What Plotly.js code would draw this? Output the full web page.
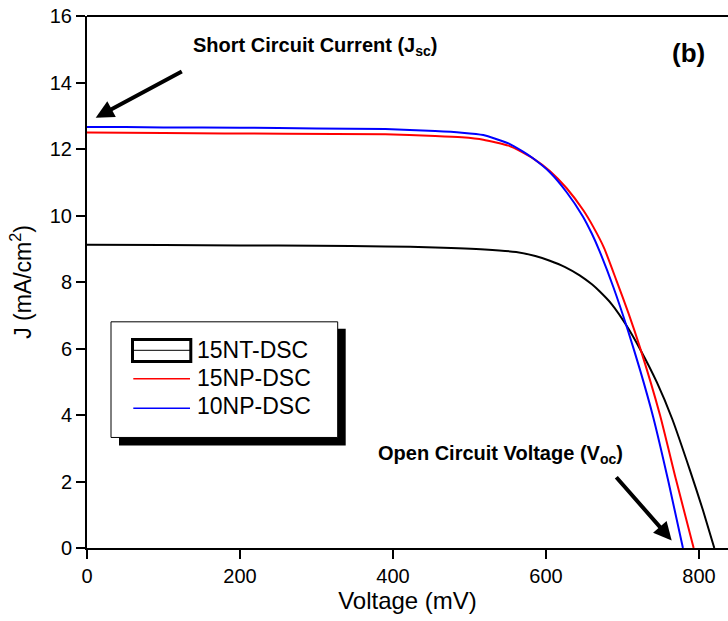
<!DOCTYPE html>
<html>
<head>
<meta charset="utf-8">
<script src="https://cdn.plot.ly/plotly-3.0.1.min.js"></script>
<style>html,body{margin:0;padding:0;background:#fff;}#chart{width:728px;height:621px;}</style>
</head>
<body>
<div id="chart"></div>
<script>
// Series names
const seriesNames = ["15NT-DSC", "15NP-DSC", "10NP-DSC"];

// 15NT-DSC (black)
const v15NT = [0, 100, 200, 300, 390, 455, 520, 561, 586, 605, 625, 644, 660, 670, 686, 705, 723, 745, 765, 788, 805, 820];
const j15NT = [9.12, 9.11, 9.10, 9.09, 9.07, 9.04, 8.98, 8.90, 8.78, 8.64, 8.45, 8.20, 7.93, 7.72, 7.33, 6.70, 5.98, 4.98, 3.88, 2.35, 1.15, 0];

// 15NP-DSC (red)
const v15NP = [0, 100, 259, 390, 455, 490, 518, 551, 570, 583, 605, 627, 649, 662, 676, 692, 708, 723, 749, 770, 793];
const j15NP = [12.50, 12.48, 12.46, 12.44, 12.39, 12.35, 12.28, 12.10, 11.89, 11.72, 11.34, 10.82, 10.15, 9.65, 9.02, 8.05, 7.05, 6.02, 4.00, 2.05, 0];

// 10NP-DSC (blue)
const v10NP = [0, 50, 100, 200, 300, 390, 455, 490, 518, 551, 570, 583, 605, 627, 648, 660, 670, 688, 707, 723, 740, 760, 779];
const j10NP = [12.66, 12.66, 12.65, 12.64, 12.62, 12.60, 12.54, 12.49, 12.42, 12.17, 11.92, 11.72, 11.30, 10.70, 9.98, 9.45, 8.93, 7.85, 6.55, 5.35, 3.95, 2.00, 0];

// Axis ticks
const xTicks = [0, 200, 400, 600, 800];
const yTicks = [0, 2, 4, 6, 8, 10, 12, 14, 16];

// Pixel -> paper helpers (layout geometry)
const L = 87, R = 728, T = 16, B = 548.3;
const px = p => (p - L) / (R - L);
const py = p => (B - p) / (B - T);

const FONT = "Arial, 'Liberation Sans', sans-serif";

const traces = [
  {x: v15NT, y: j15NT, name: seriesNames[0], mode: "lines", line: {color: "#000000", width: 2, shape: "spline", smoothing: 0.5}},
  {x: v15NP, y: j15NP, name: seriesNames[1], mode: "lines", line: {color: "#ff0000", width: 2, shape: "spline", smoothing: 0.5}},
  {x: v10NP, y: j10NP, name: seriesNames[2], mode: "lines", line: {color: "#0000ff", width: 2, shape: "spline", smoothing: 0.5}}
];

const shapes = [
  // top frame line
  {type: "line", xref: "paper", yref: "paper", x0: 0, x1: 1.05, y0: 1, y1: 1, line: {color: "#000", width: 2}},
  // legend shadow
  {type: "rect", xref: "paper", yref: "paper", x0: px(119), x1: px(345.7), y0: py(329), y1: py(445.7), fillcolor: "#000", line: {width: 0}, layer: "above"},
  // legend box
  {type: "rect", xref: "paper", yref: "paper", x0: px(111), x1: px(337.7), y0: py(322), y1: py(437.7), fillcolor: "#fff", line: {color: "#000", width: 1}, layer: "above"},
  // 15NT symbol: thick box + line
  {type: "rect", xref: "paper", yref: "paper", x0: px(132.5), x1: px(190.8), y0: py(339.8), y1: py(361.8), fillcolor: "rgba(0,0,0,0)", line: {color: "#000", width: 3}, layer: "above"},
  {type: "line", xref: "paper", yref: "paper", x0: px(132.5), x1: px(190.8), y0: py(350.5), y1: py(350.5), line: {color: "#000", width: 1}, layer: "above"},
  // 15NP symbol
  {type: "line", xref: "paper", yref: "paper", x0: px(133.3), x1: px(190), y0: py(379), y1: py(379), line: {color: "#ff0000", width: 1.5}, layer: "above"},
  // 10NP symbol
  {type: "line", xref: "paper", yref: "paper", x0: px(133.3), x1: px(190), y0: py(408.5), y1: py(408.5), line: {color: "#0000ff", width: 1.5}, layer: "above"}
];

const annFont = {family: FONT, size: 20, color: "#000"};
const legFont = {family: FONT, size: 23, color: "#000"};
const annotations = [
  {xref: "paper", yref: "paper", x: px(191), y: py(47), xanchor: "left", yanchor: "middle", showarrow: false,
   text: "<b>Short Circuit Current (J<sub>sc</sub>)</b>", font: annFont},
  {xref: "paper", yref: "paper", x: px(95.7), y: py(117.7), ax: 87.6, ay: -47, text: "", showarrow: true,
   arrowhead: 2, arrowsize: 0.9, arrowwidth: 4, arrowcolor: "#000", standoff: 0},
  {xref: "paper", yref: "paper", x: px(376), y: py(455), xanchor: "left", yanchor: "middle", showarrow: false,
   text: "<b>Open Circuit Voltage (V<sub>oc</sub>)</b>", font: annFont},
  {xref: "paper", yref: "paper", x: px(671.7), y: py(540.7), ax: -56.7, ay: -64.7, text: "", showarrow: true,
   arrowhead: 2, arrowsize: 0.9, arrowwidth: 4, arrowcolor: "#000", standoff: 0},
  {xref: "paper", yref: "paper", x: px(688), y: py(53), xanchor: "center", yanchor: "middle", showarrow: false,
   text: "<b>(b)</b>", font: {family: FONT, size: 26, color: "#000"}},
  // legend texts
  {xref: "paper", yref: "paper", x: px(194.5), y: py(350), xanchor: "left", yanchor: "middle", showarrow: false,
   text: seriesNames[0], font: legFont},
  {xref: "paper", yref: "paper", x: px(194.5), y: py(378), xanchor: "left", yanchor: "middle", showarrow: false,
   text: seriesNames[1], font: legFont},
  {xref: "paper", yref: "paper", x: px(194.5), y: py(406.5), xanchor: "left", yanchor: "middle", showarrow: false,
   text: seriesNames[2], font: legFont}
];

const layout = {
  width: 728, height: 621,
  margin: {l: L, r: 728 - R, t: T, b: 621 - B, pad: 0},
  paper_bgcolor: "#fff", plot_bgcolor: "#fff",
  showlegend: false,
  font: {family: FONT, color: "#000"},
  xaxis: {
    range: [0, (R - L) / 0.765], tickmode: "array", tickvals: xTicks, ticktext: xTicks.map(String),
    showgrid: false, zeroline: false, showline: true, linecolor: "#000", linewidth: 2,
    ticks: "outside", ticklen: 9, tickwidth: 2, tickcolor: "#000",
    tickfont: {family: FONT, size: 20, color: "#000"},
    title: {text: "Voltage (mV)", font: {family: FONT, size: 24, color: "#000"}, standoff: 6},
    automargin: false
  },
  yaxis: {
    range: [0, 16], tickmode: "array", tickvals: yTicks, ticktext: yTicks.map(String),
    showgrid: false, zeroline: false, showline: true, linecolor: "#000", linewidth: 2,
    ticks: "outside", ticklen: 9, tickwidth: 2, tickcolor: "#000",
    tickfont: {family: FONT, size: 20, color: "#000"},
    title: {text: "J (mA/cm<sup>2</sup>)", font: {family: FONT, size: 23, color: "#000"}, standoff: 12},
    automargin: false
  },
  shapes: shapes,
  annotations: annotations
};

Plotly.newPlot("chart", traces, layout, {displayModeBar: false, staticPlot: true});
</script>
</body>
</html>
